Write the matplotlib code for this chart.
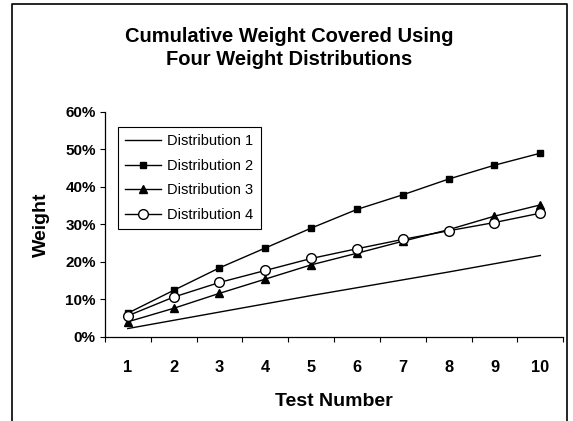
import numpy as np
from matplotlib import pyplot as plt
from matplotlib.lines import Line2D
from matplotlib.ticker import PercentFormatter

plt.rcParams['font.family'] = ['Liberation Sans', 'DejaVu Sans']

# test numbers
tests = [1, 2, 3, 4, 5, 6, 7, 8, 9, 10]

# cumulative weight (%)
dist1 = [2.2, 4.4, 6.6, 8.8, 11.0, 13.1, 15.2, 17.3, 19.5, 21.7]
dist2 = [6.3, 12.4, 18.4, 23.7, 29.0, 34.0, 37.9, 42.1, 45.8, 49.0]
dist3 = [4.0, 7.6, 11.6, 15.4, 19.2, 22.3, 25.5, 28.6, 32.2, 35.2]
dist4 = [5.6, 10.6, 14.5, 17.7, 20.9, 23.5, 26.0, 28.3, 30.5, 33.0]

fig = plt.figure(figsize=(5.73, 4.21), dpi=100)
ax = fig.add_axes([0.183, 0.2, 0.8, 0.534])

ax.plot(tests, dist1, color='black', lw=1, label='Distribution 1')
ax.plot(tests, dist2, color='black', lw=1, marker='s', ms=5, label='Distribution 2')
ax.plot(tests, dist3, color='black', lw=1, marker='^', ms=6, label='Distribution 3')
ax.plot(tests, dist4, color='black', lw=1, marker='o', ms=7, mfc='white',
        mew=1, label='Distribution 4')

ax.set_xlim(0.5, 10.5)
ax.set_ylim(0, 60)
ax.set_yticks(np.arange(0, 61, 10))
ax.yaxis.set_major_formatter(PercentFormatter(decimals=0))

# ticks at the category edges, labels in the middle
ax.set_xticks(np.arange(0.5, 10.6, 1))
ax.set_xticklabels([])
ax.set_xticks(tests, minor=True)
ax.set_xticklabels([str(t) for t in tests], minor=True)
ax.tick_params(axis='x', which='major', direction='out', length=3.5, width=0.8)
ax.tick_params(axis='x', which='minor', length=0, pad=17, labelsize=11.8)
ax.tick_params(axis='y', direction='out', length=3.5, width=0.8, labelsize=11, pad=3)
for lbl in ax.get_xticklabels(minor=True) + ax.get_yticklabels():
    lbl.set_fontweight('bold')

for side in ['top', 'right']:
    ax.spines[side].set_visible(False)
for side in ['left', 'bottom']:
    ax.spines[side].set_linewidth(0.9)

ax.set_xlabel('Test Number', fontsize=14, fontweight='bold', labelpad=13)
ax.set_ylabel('Weight', fontsize=14, fontweight='bold', labelpad=11)

fig.text(0.505, 0.886, 'Cumulative Weight Covered Using\nFour Weight Distributions',
         ha='center', va='center', fontsize=14.5, fontweight='bold', linespacing=1.32)

leg = ax.legend(loc='upper left', bbox_to_anchor=(0.028, 0.933), fontsize=10.5,
                fancybox=False, framealpha=1, edgecolor='black',
                handlelength=2.5, handletextpad=0.4, borderpad=0.5,
                labelspacing=0.72, borderaxespad=0)
leg.get_frame().set_linewidth(0.8)

# chart frame
fx = [12 / 573, 12 / 573, 567 / 573, 567 / 573]
fy = [0, 1 - 4 / 421, 1 - 4 / 421, 0]
fig.add_artist(Line2D(fx, fy, color='black', lw=1.2, transform=fig.transFigure))

fig.savefig('out.png', dpi=100)
